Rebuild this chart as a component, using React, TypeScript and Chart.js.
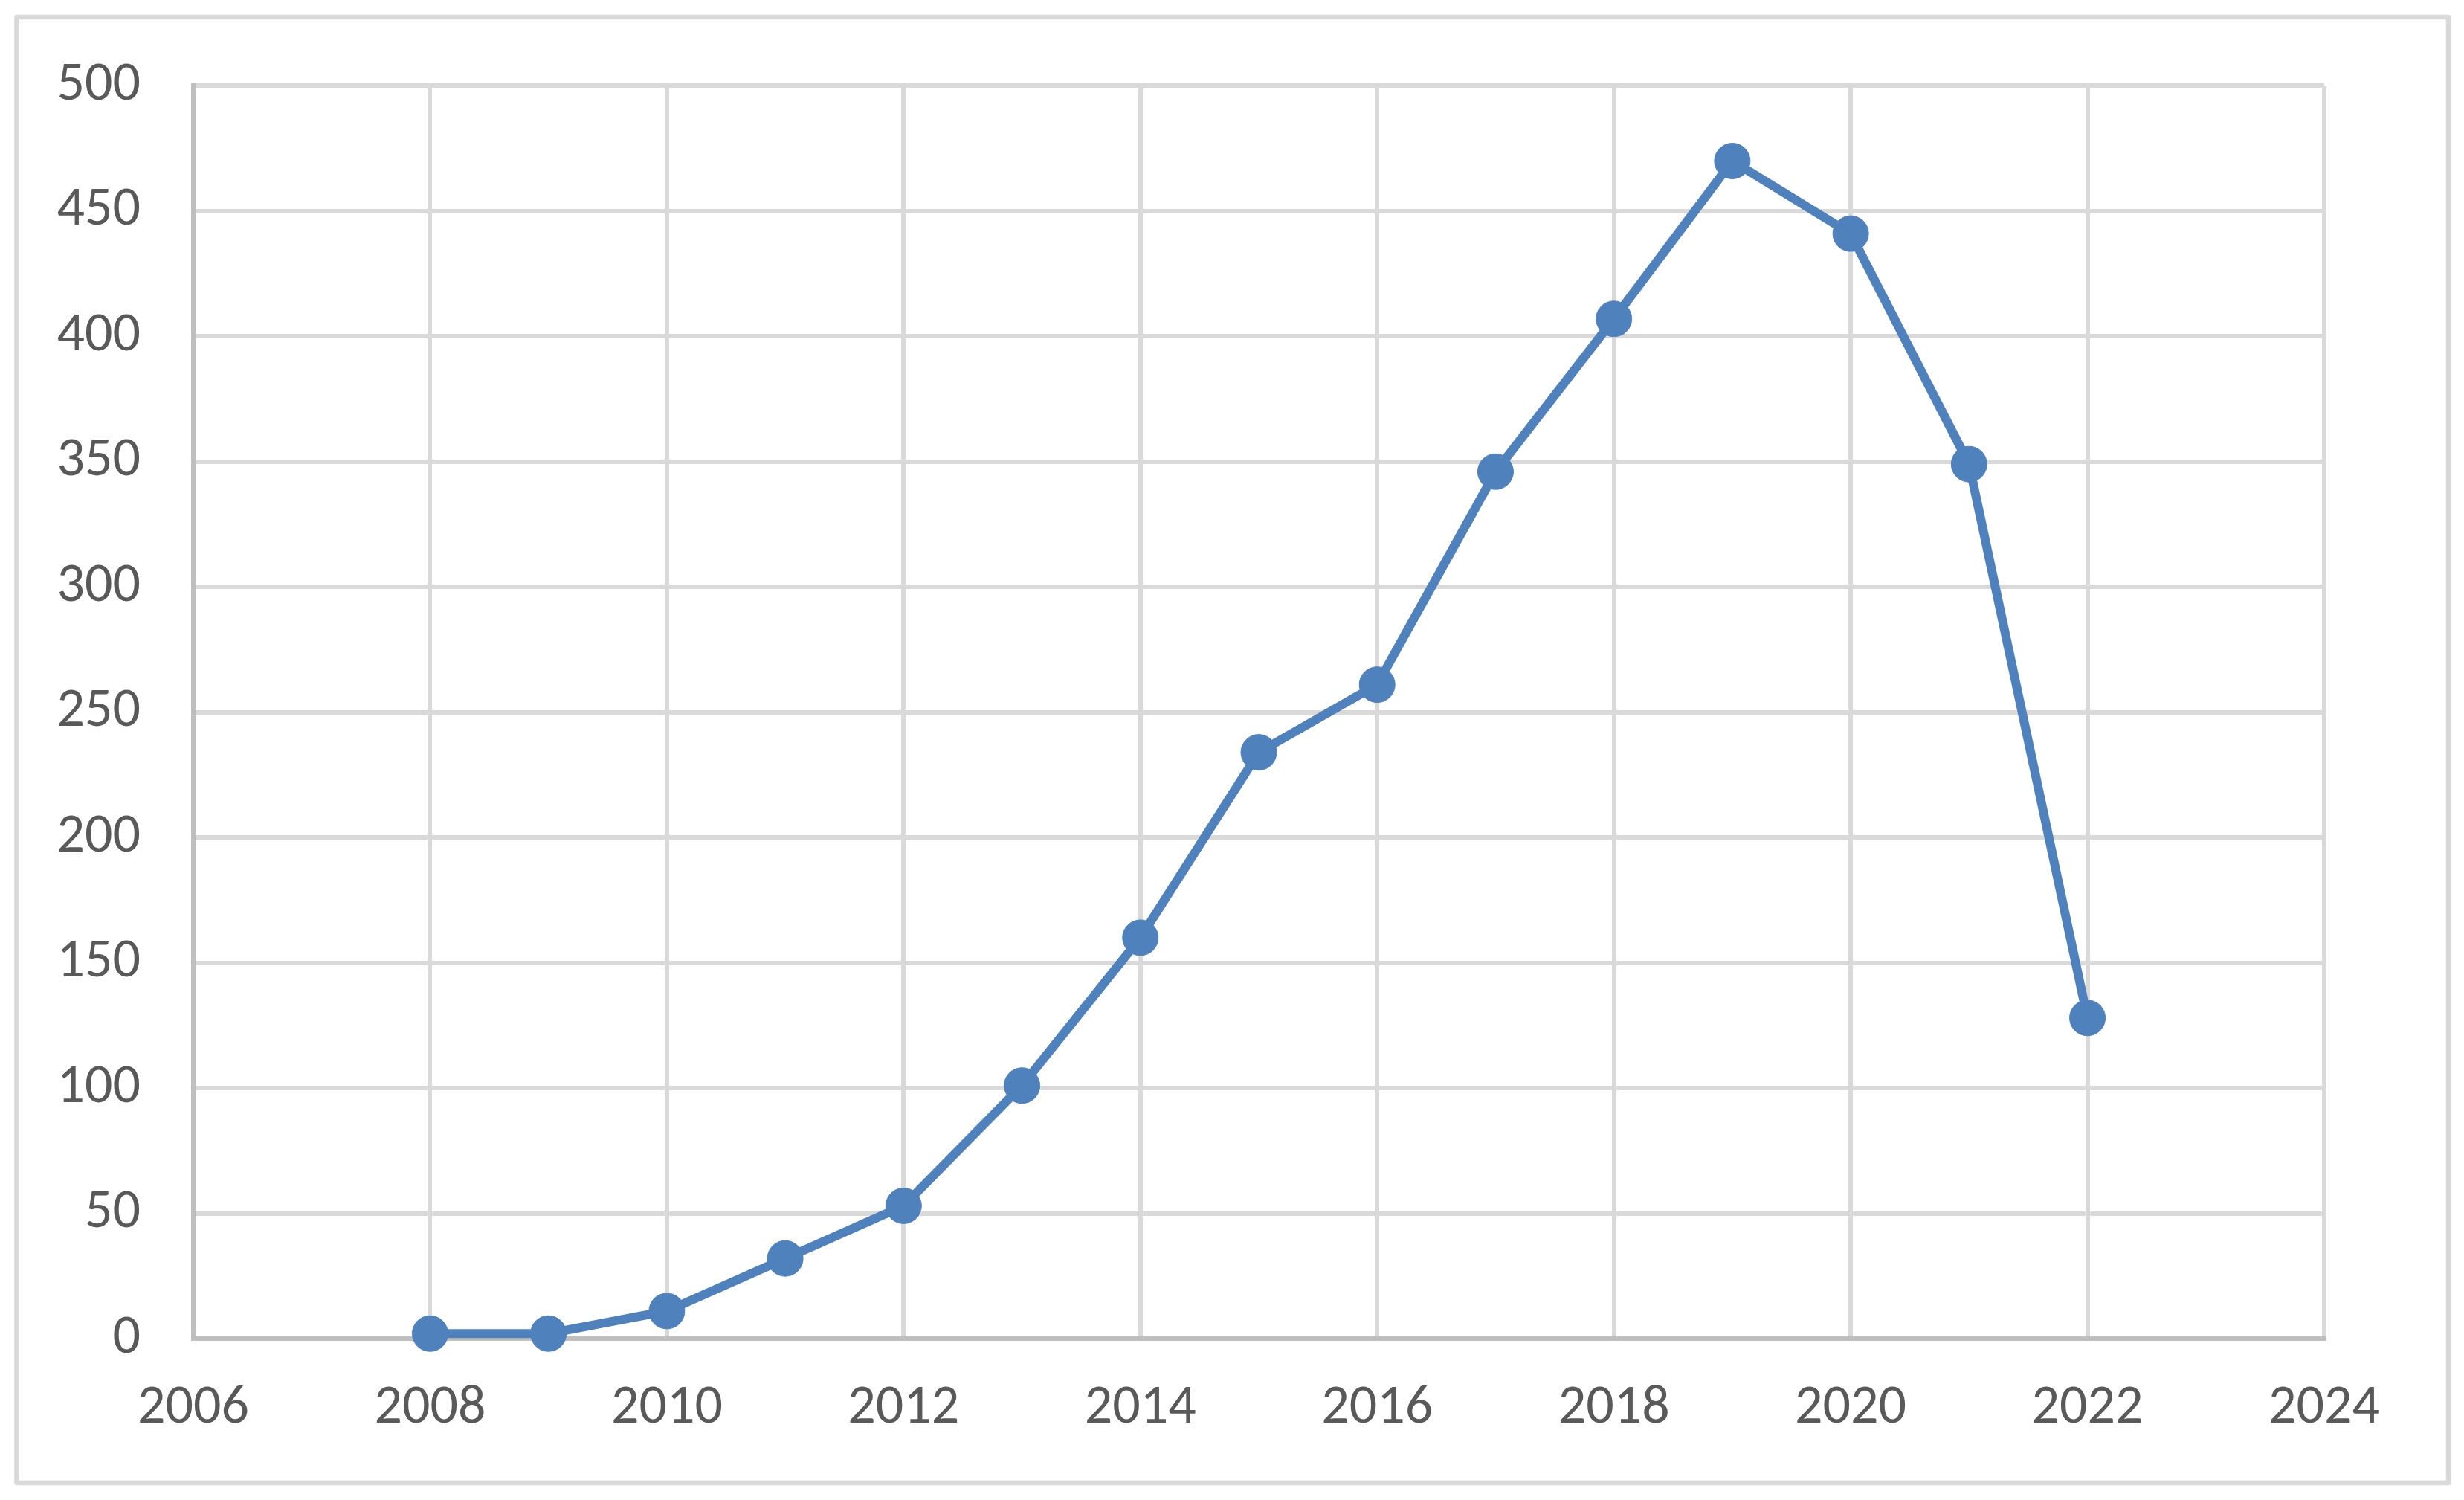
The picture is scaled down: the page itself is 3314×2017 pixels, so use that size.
import React, { useEffect, useRef } from "react";
import { Chart, registerables } from "chart.js";

Chart.register(...registerables);

const years = [2008, 2009, 2010, 2011, 2012, 2013, 2014, 2015, 2016, 2017, 2018, 2019, 2020, 2021, 2022];
const counts = [2, 2, 11, 32, 53, 101, 160, 234, 261, 346, 407, 470, 441, 349, 128];
const xMin = 2006;
const xMax = 2024;
const xStep = 2;
const yMin = 0;
const yMax = 500;
const yStep = 50;

const W = 3314;
const H = 2017;
const FONT = "Carlito, 'Open Sans', sans-serif";

const outerBorder = {
  id: "outerBorder",
  beforeDraw(chart: any) {
    const ctx = chart.ctx;
    ctx.save();
    ctx.fillStyle = "#ffffff";
    ctx.fillRect(0, 0, chart.width, chart.height);
    ctx.strokeStyle = "#d9d9d9";
    ctx.lineWidth = 6.5;
    ctx.lineJoin = "round";
    ctx.strokeRect(22.5, 23, 3293 - 22.5, 1994 - 23);
    ctx.restore();
  },
};

export default function App() {
  const ref = useRef<HTMLCanvasElement | null>(null);

  useEffect(() => {
    if (!ref.current) return;
    const points = years.map((y, i) => ({ x: y, y: counts[i] }));
    const chart = new Chart(ref.current, {
      type: "scatter",
      data: {
        datasets: [
          {
            data: points,
            showLine: true,
            borderColor: "#4f81bd",
            backgroundColor: "#4f81bd",
            borderWidth: 12,
            pointRadius: 24,
            pointBorderWidth: 1,
            pointBackgroundColor: "#4f81bd",
            pointBorderColor: "#4f81bd",
            tension: 0,
            clip: false as any,
          },
        ],
      },
      options: {
        animation: false,
        responsive: false,
        devicePixelRatio: 1,
        layout: { padding: { top: 115, right: 188, left: 0, bottom: 0 } },
        plugins: {
          legend: { display: false },
          tooltip: { enabled: false },
          title: { display: false },
        },
        scales: {
          x: {
            type: "linear",
            min: xMin,
            max: xMax,
            afterFit: (s: any) => {
              s.height = 217;
            },
            ticks: {
              stepSize: xStep,
              padding: 50,
              color: "#595959",
              font: { family: FONT, size: 74 },
              callback: (v: any) => String(v),
              maxRotation: 0,
              autoSkip: false,
            },
            grid: { color: "#d9d9d9", lineWidth: 6, drawTicks: false },
            border: { color: "#bfbfbf", width: 6 },
          },
          y: {
            type: "linear",
            min: yMin,
            max: yMax,
            afterFit: (s: any) => {
              s.width = 260;
            },
            ticks: {
              stepSize: yStep,
              padding: 71,
              color: "#595959",
              font: { family: FONT, size: 74 },
              callback: (v: any) => String(v),
            },
            grid: { color: "#d9d9d9", lineWidth: 6, drawTicks: false },
            border: { color: "#bfbfbf", width: 6 },
          },
        },
      },
      plugins: [outerBorder],
    });
    return () => chart.destroy();
  }, []);

  return (
    <div style={{ position: "absolute", left: 0, top: 0, width: W, height: H, background: "#fff" }}>
      <canvas ref={ref} width={W} height={H} style={{ display: "block", width: W, height: H }} />
    </div>
  );
}
